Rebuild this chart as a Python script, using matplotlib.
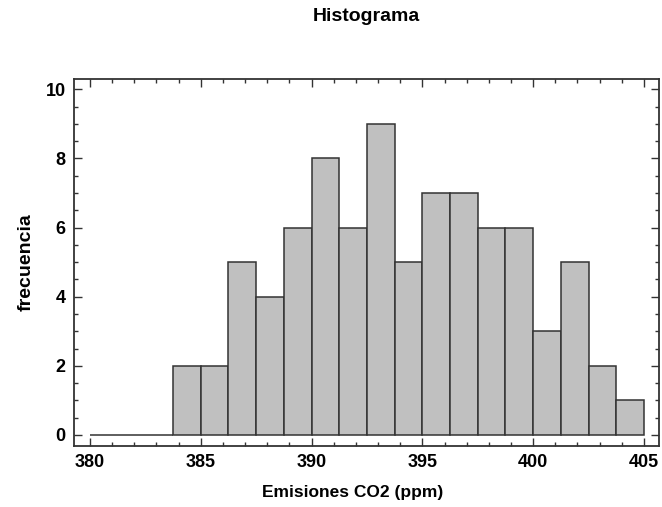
import numpy as np
import matplotlib.pyplot as plt
from matplotlib.ticker import MultipleLocator

# histogram data: bins of 1.25 ppm starting at 380
bin_start = 380.0
bin_width = 1.25
counts = [0, 0, 0, 2, 2, 5, 4, 6, 8, 6, 9, 5, 7, 7, 6, 6, 3, 5, 2, 1]

title = "Histograma"
x_label = "Emisiones CO2 (ppm)"
y_label = "frecuencia"

plt.rcParams['font.family'] = ['Liberation Sans', 'DejaVu Sans']
plt.rcParams['font.weight'] = 'bold'

edges = bin_start + bin_width * np.arange(len(counts))

fig = plt.figure(figsize=(6.62, 5.07), dpi=100)
ax = fig.add_axes([0.1118, 0.1203, 0.8837, 0.7239])

ax.bar(edges, counts, width=bin_width, align='edge',
       color='#c0c0c0', edgecolor='#333333', linewidth=1.1)

ax.set_xlim(379.28, 405.68)
ax.set_ylim(-0.32, 10.3)

ax.xaxis.set_major_locator(MultipleLocator(5))
ax.xaxis.set_minor_locator(MultipleLocator(1))
ax.yaxis.set_major_locator(MultipleLocator(2))
ax.yaxis.set_minor_locator(MultipleLocator(0.5))

ax.tick_params(which='both', direction='in', top=True, right=True,
               colors='#333333', labelcolor='black', labelsize=13)
ax.tick_params(which='major', length=6, width=1.0)
ax.tick_params(which='minor', length=3, width=1.0)
ax.tick_params(axis='x', pad=6)
ax.tick_params(axis='y', pad=6)

for s in ax.spines.values():
    s.set_color('#333333')
    s.set_linewidth(1.3)

ax.set_xlabel(x_label, fontsize=12.5, fontweight='bold', labelpad=6)
ax.xaxis.set_label_coords(0.477, -0.105)
ax.set_ylabel(y_label, fontsize=14, fontweight='bold', labelpad=8)
fig.suptitle(title, fontsize=14, fontweight='bold', x=0.553, y=0.985)

fig.savefig('out.png', dpi=100)
